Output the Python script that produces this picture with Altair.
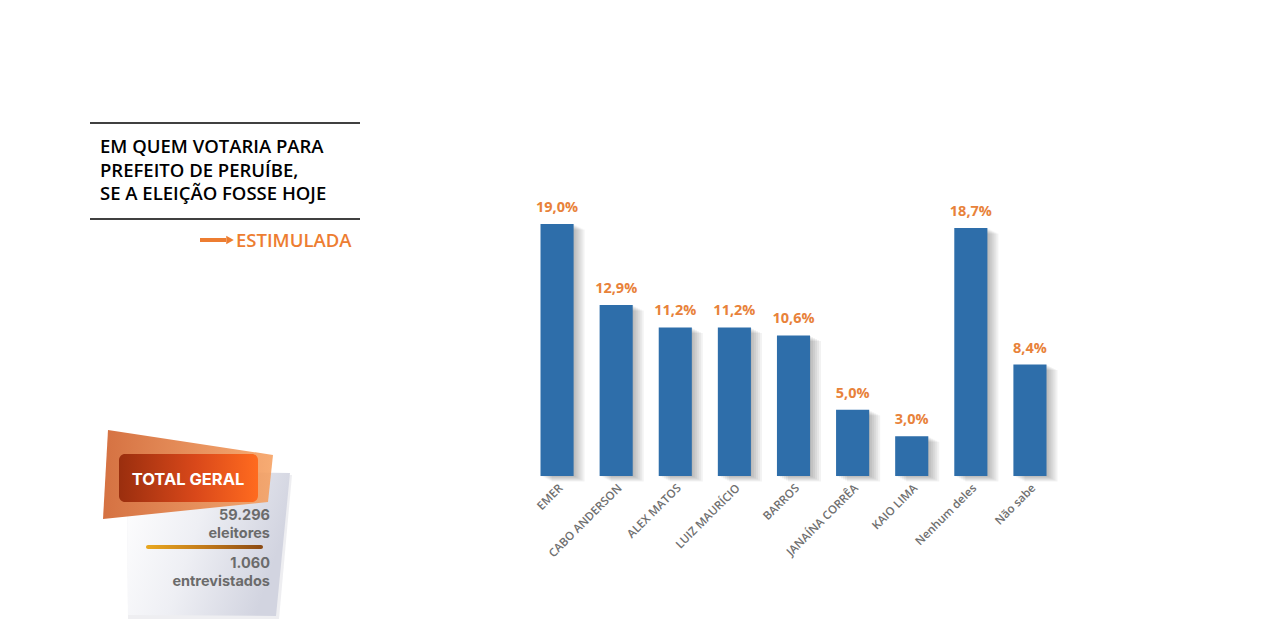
import altair as alt
import pandas as pd

candidates = ["EMER", "CABO ANDERSON", "ALEX MATOS", "LUIZ MAURÍCIO", "BARROS",
              "JANAÍNA CORRÊA", "KAIO LIMA", "Nenhum deles", "Não sabe"]
values = [19.0, 12.9, 11.2, 11.2, 10.6, 5.0, 3.0, 18.7, 8.4]
title_lines = ["EM QUEM VOTARIA PARA", "PREFEITO DE PERUÍBE,", "SE A ELEIÇÃO FOSSE HOJE"]
subtitle = "ESTIMULADA"
total_title = "TOTAL GERAL"
total_lines = ["59.296", "eleitores", "1.060", "entrevistados"]

df = pd.DataFrame({"cand": candidates, "val": values})
df["label"] = [f"{v:.1f}".replace(".", ",") + "%" for v in values]

OX, OY = 527.5, 210.7
W, H = 532, 265.3
def px(x): return x - OX
def py(y): return y - OY

one = pd.DataFrame({"a": [0]})
ORANGE = "#E8823A"
BLUE = "#2E6EAA"

xenc = alt.X("cand:N", sort=candidates,
             scale=alt.Scale(paddingInner=0.44, paddingOuter=0.22),
             axis=alt.Axis(title=None, labelAngle=-45, domain=False, ticks=False,
                           labelFont="Open Sans", labelFontSize=11.5, labelFontWeight=600,
                           labelColor="#6f6f6f", labelPadding=6))
yenc = alt.Y("val:Q", scale=alt.Scale(domain=[0, 20]), axis=None)

base = alt.Chart(df)
shadows = [
    base.mark_bar(color="#000000", opacity=0.05, xOffset=k, yOffset=k / 2, y2Offset=k / 2)
        .encode(x=xenc, y=yenc)
    for k in (1, 3, 5, 7, 9, 11)
]
bars = base.mark_bar(color=BLUE).encode(x=xenc, y=yenc)
labels = base.mark_text(dy=-9, baseline="bottom", font="Open Sans", fontSize=14.5,
                        fontWeight="bold", color=ORANGE).encode(x=xenc, y=yenc, text="label:N")

def txt(t, x, y, **kw):
    return alt.Chart(one).mark_text(text=t, baseline="middle", **kw).encode(
        x=alt.value(px(x)), y=alt.value(py(y)))

def poly(points, opacity=1, **kw):
    xs = [p[0] for p in points]; ys = [p[1] for p in points]
    cx = (min(xs) + max(xs)) / 2; cy = (min(ys) + max(ys)) / 2
    d = "M" + " L".join(f"{(x-cx)/100:.4f},{(y-cy)/100:.4f}" for x, y in points) + " Z"
    return alt.Chart(one).mark_point(shape=d, filled=True, size=40000, opacity=opacity,
                                     strokeWidth=0, **kw).encode(
        x=alt.value(px(cx)), y=alt.value(py(cy)))

deco = []
# title block
deco.append(alt.Chart(one).mark_rule(color="#000000", strokeWidth=1.5).encode(
    x=alt.value(px(90)), x2=alt.value(px(360)), y=alt.value(py(123))))
deco.append(alt.Chart(one).mark_rule(color="#000000", strokeWidth=1.5).encode(
    x=alt.value(px(90)), x2=alt.value(px(360)), y=alt.value(py(219))))
for i, line in enumerate(title_lines):
    deco.append(txt(line, 100, 147 + i * 23.5, align="left", font="Open Sans",
                    fontSize=18.5, fontWeight=600, color="#000000"))
deco.append(alt.Chart(one).mark_rule(color="#ED7D31", strokeWidth=4).encode(
    x=alt.value(px(200)), x2=alt.value(px(226)), y=alt.value(py(240))))
deco.append(alt.Chart(one).mark_point(shape="triangle-right", filled=True, size=75,
                                      opacity=1, color="#ED7D31").encode(
    x=alt.value(px(230)), y=alt.value(py(240))))
deco.append(txt(subtitle, 236, 241, align="left", font="Open Sans", fontSize=18.5,
                fontWeight=600, color="#ED7D31"))

# total geral card
deco.append(poly([(127, 474), (292, 475), (279, 619), (128, 619)], opacity=0.15,
                 color="#8a8ca0"))
deco.append(poly([(127, 471), (290, 473), (276, 616), (128, 615)],
                 color=alt.LinearGradient(gradient="linear", x1=0, y1=0, x2=1, y2=0.3,
                                          stops=[alt.GradientStop(color="#ffffff", offset=0),
                                                 alt.GradientStop(color="#eeeff4", offset=0.5),
                                                 alt.GradientStop(color="#d2d4e0", offset=1)])))
deco.append(poly([(108, 430), (273, 455), (268, 502), (103, 519)], opacity=0.88,
                 color=alt.LinearGradient(gradient="linear", x1=0, y1=0, x2=1, y2=0,
                                          stops=[alt.GradientStop(color="#CF5E28", offset=0),
                                                 alt.GradientStop(color="#F6A060", offset=1)])))
deco.append(alt.Chart(one).mark_rect(cornerRadius=6,
    color=alt.LinearGradient(gradient="linear", x1=0, y1=0, x2=1, y2=0,
                             stops=[alt.GradientStop(color="#9A2E0E", offset=0),
                                    alt.GradientStop(color="#D9481A", offset=0.55),
                                    alt.GradientStop(color="#FF6B1F", offset=1)])).encode(
    x=alt.value(px(119)), x2=alt.value(px(258)), y=alt.value(py(454)), y2=alt.value(py(502))))
deco.append(txt(total_title, 188, 480, align="center", font="Inter", fontSize=16.5,
                fontWeight="bold", color="#ffffff"))
for t, y in zip(total_lines, [516, 534, 564, 582]):
    deco.append(txt(t, 270, y, align="right", font="Inter", fontSize=14.5,
                    fontWeight="bold", color="#6b6b6b"))
deco.append(alt.Chart(one).mark_rect(cornerRadius=2,
    color=alt.LinearGradient(gradient="linear", x1=0, y1=0, x2=1, y2=0,
                             stops=[alt.GradientStop(color="#E9A820", offset=0),
                                    alt.GradientStop(color="#C27A1A", offset=0.5),
                                    alt.GradientStop(color="#8B4A14", offset=1)])).encode(
    x=alt.value(px(146)), x2=alt.value(px(263)), y=alt.value(py(545)), y2=alt.value(py(549))))

chart = alt.layer(*shadows, bars, labels, *deco).properties(
    width=W, height=H,
    autosize=alt.AutoSizeParams(type="none"),
    padding={"left": OX, "top": OY, "right": 1269 - OX - W, "bottom": 627 - OY - H},
    background="#ffffff",
).configure_view(stroke=None)

chart.save("out.html", embed_options={"renderer": "svg", "actions": False})
